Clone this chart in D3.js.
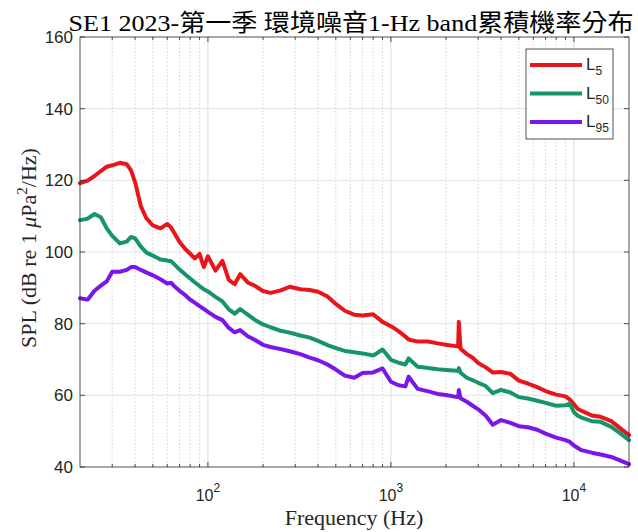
<!DOCTYPE html>
<html><head><meta charset="utf-8">
<script src="https://cdn.jsdelivr.net/npm/d3@7"></script>
<style>body{margin:0;background:#fff}svg{display:block}</style>
</head><body>
<svg id="chart" width="638" height="532"></svg>
<script>
const freqs = [20,22,24,26,28,30,33,36,38,40,43,46,50,55,60,63,66,70,75,80,85,90,95,100,110,120,130,140,150,165,180,200,220,250,280,320,360,400,450,500,560,630,700,800,900,1000,1100,1200,1250,1400,1600,1800,2000,2200,2330,2350,2400,2600,2800,3000,3300,3600,4000,4500,5000,5600,6300,7000,8000,9000,9500,10000,10500,11000,12500,14000,16000,18000,20000];
const L5 = [119.2,119.9,121.2,122.6,123.8,124.2,124.9,124.5,122.8,119.5,112.8,109.5,107.4,106.6,107.8,106.8,105,102.8,100.9,99.5,98.2,99.5,95.8,98.8,94.8,97.5,92.2,91,93.8,91.5,90.6,89.1,88.6,89.3,90.3,89.6,89.4,88.9,87.6,85.5,83.6,82.5,82.3,82.6,80.5,79.3,77.9,76.4,75.6,75,75,74.5,74.1,73.8,73.6,80.5,73,71.5,70.5,69,67.8,66.4,66.5,66,64.1,63.3,62.3,61.2,60.2,59.7,58.8,57.5,56.2,55.7,54.4,54,52.8,50.7,48.9];
const L50 = [108.9,109.3,110.6,109.7,106.6,104.5,102.4,102.9,104.2,103.8,101.5,99.9,99,97.9,97.6,97.4,96.4,95.1,93.8,92.6,91.5,90.5,89.6,89,87.5,86.2,84,82.8,84.1,82.5,81.1,79.8,79,78,77.5,76.7,76.1,75.2,74,73.2,72.4,72,71.7,71.1,72.8,69.9,69.1,68.6,70.3,68,67.6,67.3,67.1,66.9,66.8,67.6,66.3,64.9,64.2,63.5,62.6,60.6,61.5,60.8,59.5,59.1,58.5,57.9,57.1,57.2,57.7,55.3,54.3,53.8,52.8,52.6,51.2,49.3,47.5];
const L95 = [87.1,86.7,89.2,90.6,91.8,94.5,94.5,95,95.8,95.8,95,94.3,93.5,92.4,91.2,91.4,90.3,89.2,88,86.7,85.8,84.9,84.1,83.3,81.9,81,78.8,77.6,78.2,76.5,75.5,74.1,73.5,72.9,72.3,71.5,70.5,69.8,68.6,67.2,65.5,64.9,66.2,66.4,67.5,63.8,62.8,62.5,65.2,61.8,61.1,60.4,60.1,59.7,59.5,61.5,59.2,58.2,57.1,56.1,54.3,51.8,53.1,52.3,51.4,51.1,50.4,49.3,48.2,47.5,47,46,45.3,44.7,44,43.5,42.8,41.8,40.8];
const seriesNames = ["5","50","95"];
const seriesColors = ["#e8161b","#17956a","#7b16e8"];
const yTicks = [40,60,80,100,120,140,160];
const xMajor = [100,1000,10000];
const xMajorExp = ["2","3","4"];
const titleText = "SE1 2023-第一季 環境噪音1-Hz band累積機率分布";

const svg = d3.select("#chart");
const L = 80, R = 629, T = 37, B = 467;
const x = d3.scaleLog().domain([20,20000]).range([L,R]);
const y = d3.scaleLinear().domain([40,160]).range([B,T]);
const axisColor = "#262626";

// grid
const minorF = [];
[10,100,1000,10000].forEach(d=>{for(let k=1;k<=9;k++){const f=k*d; if(f>20&&f<20000) minorF.push(f);}});
const g = svg.append("g");
g.selectAll(".vg").data(minorF).enter().append("line")
  .attr("x1",d=>x(d)).attr("x2",d=>x(d)).attr("y1",T).attr("y2",B)
  .attr("stroke", d=>xMajor.includes(d)?"#dcdcdc":"#d4d4d4")
  .attr("stroke-width",1)
  .attr("stroke-dasharray", d=>xMajor.includes(d)?null:"1.5,2");
g.selectAll(".hg").data(yTicks.filter(v=>v>40&&v<160)).enter().append("line")
  .attr("x1",L).attr("x2",R).attr("y1",d=>y(d)).attr("y2",d=>y(d))
  .attr("stroke","#e2e2e2").attr("stroke-width",1);

// series
const data = [L5,L50,L95];
const line = d3.line().x(d=>x(d[0])).y(d=>y(d[1]));
data.forEach((s,i)=>{
  svg.append("path").datum(freqs.map((f,j)=>[f,s[j]]))
    .attr("d",line).attr("fill","none").attr("stroke",seriesColors[i])
    .attr("stroke-width",4).attr("stroke-linejoin","round").attr("stroke-linecap","round");
});

// axes box
svg.append("rect").attr("x",L).attr("y",T).attr("width",R-L).attr("height",B-T)
  .attr("fill","none").attr("stroke",axisColor).attr("stroke-width",0.8);

// ticks
const tk = svg.append("g").attr("stroke",axisColor).attr("stroke-width",0.8);
yTicks.forEach(v=>{
  tk.append("line").attr("x1",L).attr("x2",L+5).attr("y1",y(v)).attr("y2",y(v));
  tk.append("line").attr("x1",R).attr("x2",R-5).attr("y1",y(v)).attr("y2",y(v));
});
minorF.forEach(f=>{
  const len = xMajor.includes(f)?5:3;
  tk.append("line").attr("x1",x(f)).attr("x2",x(f)).attr("y1",B).attr("y2",B-len);
  tk.append("line").attr("x1",x(f)).attr("x2",x(f)).attr("y1",T).attr("y2",T+len);
});

// y tick labels
svg.selectAll(".yl").data(yTicks).enter().append("text")
  .attr("x",L-7).attr("y",d=>y(d)+6).attr("text-anchor","end")
  .attr("font-family","'Liberation Sans', Arial, sans-serif").attr("font-size",17)
  .attr("fill",axisColor).text(d=>d);

// x tick labels
xMajor.forEach((f,i)=>{
  const t = svg.append("text").attr("x",x(f)).attr("y",501).attr("text-anchor","middle")
    .attr("font-family","'Liberation Sans', Arial, sans-serif").attr("font-size",16).attr("fill",axisColor);
  t.append("tspan").text("10");
  t.append("tspan").attr("dy",-9).attr("font-size",12).text(xMajorExp[i]);
});

// axis labels
svg.append("text").attr("x",354).attr("y",525).attr("text-anchor","middle")
  .attr("font-family","'Liberation Serif', 'Times New Roman', serif").attr("font-size",22)
  .attr("fill",axisColor).text("Frequency (Hz)");
const yl = svg.append("text").attr("transform","translate(36,248) rotate(-90)").attr("text-anchor","middle")
  .attr("font-family","'Liberation Serif', 'Times New Roman', serif").attr("font-size",22).attr("fill",axisColor);
yl.append("tspan").text("SPL (dB re 1 ");
yl.append("tspan").attr("font-style","italic").text("μ");
yl.append("tspan").text("Pa");
yl.append("tspan").attr("dy",-9).attr("font-size",15).text("2");
yl.append("tspan").attr("dy",9).text("/Hz)");

// title
svg.append("text").attr("x",351).attr("y",31).attr("text-anchor","middle")
  .attr("font-family","'Liberation Serif', 'Noto Sans CJK TC', serif").attr("font-size",24)
  .attr("textLength",565).attr("lengthAdjust","spacingAndGlyphs")
  .attr("fill","#000").text(titleText);

// legend
const lg = svg.append("g");
lg.append("rect").attr("x",526).attr("y",49).attr("width",87).attr("height",90)
  .attr("fill","#fff").attr("stroke",axisColor).attr("stroke-width",0.8);
seriesNames.forEach((n,i)=>{
  const yy = 65 + i*28.5;
  lg.append("line").attr("x1",530).attr("x2",582).attr("y1",yy).attr("y2",yy)
    .attr("stroke",seriesColors[i]).attr("stroke-width",4);
  const t = lg.append("text").attr("x",586).attr("y",yy+5)
    .attr("font-family","'Liberation Sans', Arial, sans-serif").attr("font-size",17).attr("fill",axisColor);
  t.append("tspan").text("L");
  t.append("tspan").attr("dy",5).attr("font-size",12).text(n);
});
</script>
</body></html>
